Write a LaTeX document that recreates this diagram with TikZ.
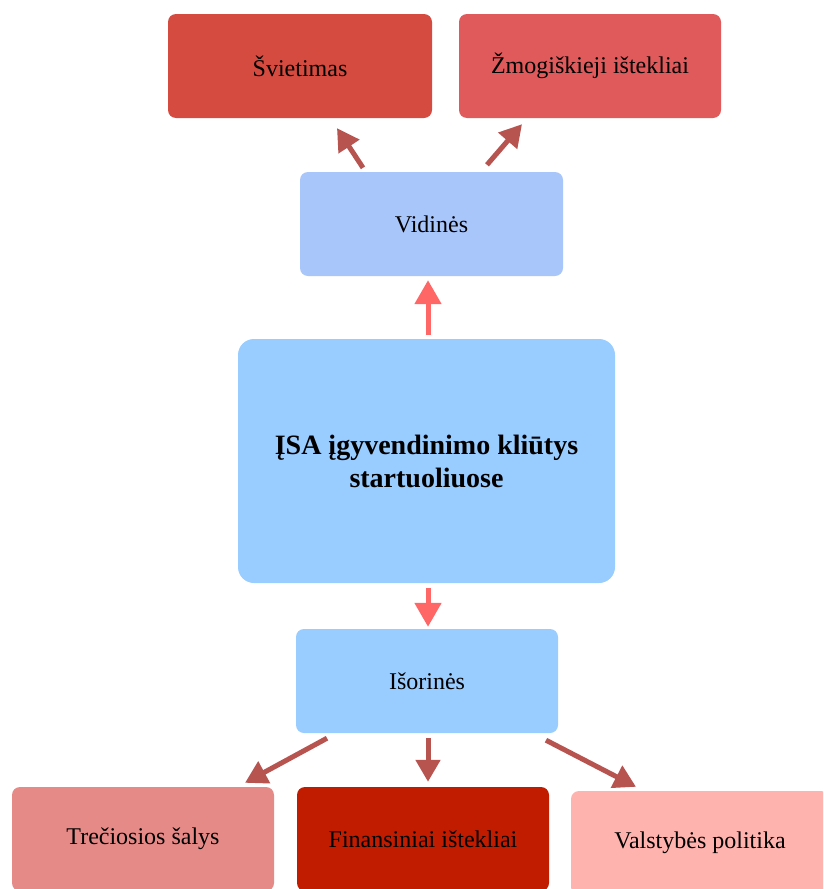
\documentclass[tikz,border=0pt]{standalone}
\usepackage{fontspec}
\setmainfont{Liberation Serif}
\usetikzlibrary{arrows.meta,calc}
\definecolor{csvi}{HTML}{D54B40}
\definecolor{czmo}{HTML}{E05A5B}
\definecolor{cvid}{HTML}{A9C6FB}
\definecolor{cblue}{HTML}{99CCFF}
\definecolor{ctre}{HTML}{E68A88}
\definecolor{cfin}{HTML}{C11C00}
\definecolor{cval}{HTML}{FFB3AE}
\definecolor{carrdark}{HTML}{B85450}
\definecolor{carrlight}{HTML}{FF6666}
\tikzset{
  box/.style={rectangle, rounded corners=8pt, inner sep=0pt, align=center,
    font=\fontsize{24}{28}\selectfont, text=black},
  bigbox/.style={rectangle, rounded corners=16pt, inner sep=0pt, align=center,
    font=\fontsize{28}{33}\selectfont\bfseries, text=black},
  darkarr/.style={draw=carrdark, line width=5pt, -{Triangle[length=22pt,width=24pt]}},
  lightarr/.style={draw=carrlight, line width=5pt, -{Triangle[length=24pt,width=26pt]}}
}
\begin{document}
\begin{tikzpicture}[x=1pt,y=-1pt]
\useasboundingbox (0,0) rectangle (823,889);
\clip (0,0) rectangle (823,889);
\fill[white] (0,0) rectangle (823,889);
% nodes
\node[box, fill=csvi, minimum width=264pt, minimum height=104pt] (svi) at (300,66) {Švietimas};
\node[box, fill=czmo, minimum width=262pt, minimum height=104pt] (zmo) at (590,66) {Žmogiškieji ištekliai};
\node[box, fill=cvid, minimum width=263pt, minimum height=104pt] (vid) at (431.5,224) {Vidinės};
\node[bigbox, fill=cblue, minimum width=377pt, minimum height=244pt] (cen) at (426.5,461) {ĮSA įgyvendinimo kliūtys\\startuoliuose};
\node[box, fill=cblue, minimum width=262pt, minimum height=104pt] (iso) at (427,681) {Išorinės};
\node[box, fill=ctre, minimum width=262pt, minimum height=104pt] (tre) at (143,839) {Trečiosios šalys};
\node[box, fill=cfin, minimum width=252pt, minimum height=104pt] (fin) at (423,839) {Finansiniai ištekliai};
\node[box, fill=cval, minimum width=258pt, minimum height=104pt] (val) at (700,843) {Valstybės politika};
% connectors
\draw[lightarr] ([yshift=4pt]cen.north -| 428,0) -- ([yshift=-4pt]vid.south -| 428,0);
\draw[lightarr] ([yshift=-5pt]cen.south -| 428,0) -- ([yshift=2pt]iso.north -| 428,0);
\draw[darkarr] ($(vid.north)+(-68.5,-4)$) -- ($(svi.south)+(37,10)$);
\draw[darkarr] ($(vid.north)+(55.5,-7)$) -- ($(zmo.south)+(-68,6)$);
\draw[darkarr] ($(iso.south)+(-100,5)$) -- ($(tre.north)+(102,-4)$);
\draw[darkarr] ($(iso.south)+(1,5)$) -- ($(fin.north)+(5,-5)$);
\draw[darkarr] ($(iso.south)+(119,7)$) -- ($(val.north)+(-64,-4)$);
\end{tikzpicture}
\end{document}
